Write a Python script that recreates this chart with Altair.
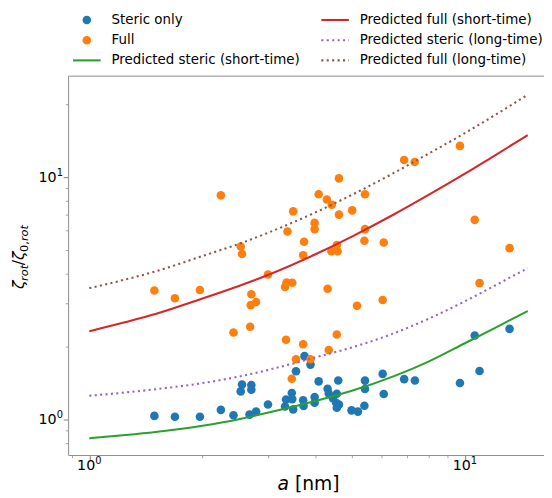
import altair as alt
import pandas as pd

# ---------------- data ----------------
blue_a = [1.49, 1.69, 1.97, 2.24, 2.42, 2.53, 2.55, 2.67, 2.70, 2.70,
          2.78, 2.99, 3.32, 3.34, 3.46, 3.47, 3.49, 3.55, 3.74, 3.88,
          3.71, 3.72, 3.98, 3.98, 4.08, 4.31, 4.34, 4.45, 4.56, 4.60,
          4.54, 4.62, 4.56, 4.99, 5.19, 5.40, 5.42, 5.42, 6.04, 6.08,
          6.89, 7.36, 9.70, 10.94, 10.62, 13.15]
blue_y = [1.032, 1.023, 1.024, 1.093, 1.038, 1.303, 1.391, 1.045, 1.384, 1.325,
          1.075, 1.151, 1.128, 1.206, 1.284, 1.211, 1.098, 1.578, 1.822, 1.681,
          1.197, 1.134, 1.234, 1.169, 1.433, 1.337, 1.278, 1.222, 1.275, 1.446,
          1.169, 1.151, 1.116, 1.088, 1.075, 1.137, 1.444, 1.334, 1.539, 1.272,
          1.464, 1.446, 1.411, 1.581, 2.218, 2.362]

orange_a = [1.49, 1.69, 1.97, 2.24, 2.53, 2.55, 2.99, 2.70, 2.69, 2.78,
            2.42, 2.68, 3.34, 3.71, 3.32, 3.35, 3.47, 3.49, 3.37, 3.73,
            3.71, 3.98, 3.98, 4.08, 4.29, 4.42, 4.62, 4.62, 5.01, 5.42,
            5.42, 5.40, 6.08, 4.56, 4.41, 4.58, 4.31, 5.16, 6.04, 4.56,
            4.34, 3.55, 3.88, 3.46, 6.89, 7.35, 9.70, 10.62, 13.15, 10.94]
orange_y = [3.40, 3.16, 3.42, 8.41, 5.17, 4.81, 3.96, 3.28, 2.96, 3.05,
            2.28, 2.41, 2.13, 2.04, 3.52, 3.67, 3.66, 7.22, 5.96, 5.41,
            4.76, 6.47, 6.10, 8.50, 8.08, 7.69, 9.88, 7.00, 7.29, 8.50,
            6.10, 5.46, 5.37, 5.24, 4.94, 4.94, 3.46, 2.94, 3.11, 2.24,
            1.93, 1.77, 1.77, 1.47, 11.76, 11.54, 13.46, 6.66, 5.09, 3.65]

curve_a = [1.0, 1.25, 1.5, 2.0, 2.5, 3.0, 4.0, 5.0, 6.5, 8.0, 10.0, 12.0, 14.7]
steric_short = [0.835, 0.86, 0.885, 0.94, 1.0, 1.065, 1.19, 1.31, 1.51, 1.73, 2.06, 2.38, 2.80]
steric_long = [1.25, 1.29, 1.33, 1.41, 1.50, 1.60, 1.80, 1.98, 2.27, 2.60, 3.07, 3.56, 4.21]
full_short = [2.31, 2.52, 2.72, 3.15, 3.55, 3.95, 4.80, 5.68, 7.04, 8.44, 10.33, 12.28, 14.9]
full_long = [3.48, 3.78, 4.08, 4.72, 5.30, 5.90, 7.15, 8.45, 10.45, 12.5, 15.2, 18.0, 21.9]

legend_labels = ["Steric only", "Full", "Predicted steric (short-time)",
                 "Predicted full (short-time)", "Predicted steric (long-time)",
                 "Predicted full (long-time)"]

x_ticks = [0.9, 1, 2, 3, 4, 5, 6, 7, 8, 9, 10]
y_ticks = [0.8, 0.9, 1, 2, 3, 4, 5, 6, 7, 8, 9, 10, 20]
major_vals = [1, 10]
major_base = ["10", "10"]
major_exp = ["0", "1"]

# ---------------- styles ----------------
BLUE, ORANGE, GREEN = "#1f77b4", "#ff7f0e", "#2ca02c"
RED, PURPLE, BROWN = "#d62728", "#9467bd", "#8c564b"
FONT = "DejaVu Sans"
FRAME = "#8c8c8c"
DOT = [2.1, 3.4]

x_scale = alt.Scale(type="log", domain=[0.878, 16.24], nice=False)
y_scale = alt.Scale(type="log", domain=[0.7116, 26.25], nice=False)

major = "datum.value == 1 || datum.value == 10"
common = dict(grid=False, domain=False, title=None, tickColor=FRAME, labels=False,
              tickSize={"condition": {"test": major, "value": 5}, "value": 2.8},
              tickWidth={"condition": {"test": major, "value": 1.1}, "value": 0.8})
x_axis = alt.Axis(values=x_ticks, **common)
y_axis = alt.Axis(values=y_ticks, **common)


def X(field="a"):
    return alt.X(f"{field}:Q", scale=x_scale, axis=x_axis)


def Y(field="z"):
    return alt.Y(f"{field}:Q", scale=y_scale, axis=y_axis)


layers = []
for xs, ys, col in [(blue_a, blue_y, BLUE), (orange_a, orange_y, ORANGE)]:
    df = pd.DataFrame({"a": xs, "z": ys})
    layers.append(alt.Chart(df).mark_circle(size=76, color=col, opacity=1)
                  .encode(x=X(), y=Y()))

for ys, col, dash in [(steric_short, GREEN, None), (full_short, RED, None),
                      (steric_long, PURPLE, DOT), (full_long, BROWN, DOT)]:
    df = pd.DataFrame({"a": curve_a, "z": ys})
    kw = dict(color=col, strokeWidth=2.1, interpolate="monotone")
    if dash:
        kw["strokeDash"] = dash
    layers.append(alt.Chart(df).mark_line(**kw).encode(x=X(), y=Y()))

# ---------------- tick labels 10^n, placed through the scales ----------------
tick_df = pd.DataFrame({"a": major_vals, "z": major_vals, "b": major_base, "e": major_exp})
txt = dict(font=FONT, color="#000000", baseline="alphabetic")
layers.append(alt.Chart(tick_df).mark_text(align="right", dx=6.0, fontSize=14.5, **txt)
              .encode(x=X(), y=alt.value(400.5), text="b:N"))
layers.append(alt.Chart(tick_df).mark_text(align="left", dx=6.0, fontSize=10, **txt)
              .encode(x=X(), y=alt.value(394), text="e:N"))
layers.append(alt.Chart(tick_df).mark_text(align="right", dy=5.3, fontSize=14.5, **txt)
              .encode(y=Y(), x=alt.value(-11.6), text="b:N"))
layers.append(alt.Chart(tick_df).mark_text(align="left", dy=-0.8, fontSize=10, **txt)
              .encode(y=Y(), x=alt.value(-11.6), text="e:N"))

# ---------------- legend (pixel positions relative to plot area) ----------------
rows = [-56.5, -36, -15.5]
pix = lambda f: alt.X(f"{f}:Q", scale=None, axis=None)
piy = lambda f: alt.Y(f"{f}:Q", scale=None, axis=None)

leg_pts = pd.DataFrame({"px": [19, 19], "py": rows[:2], "c": [BLUE, ORANGE]})
layers.append(alt.Chart(leg_pts).mark_circle(size=76, opacity=1).encode(
    x=pix("px"), y=piy("py"), color=alt.Color("c:N", scale=None)))

leg_solid = pd.DataFrame({"px": [5, 257], "px2": [33, 285], "py": [rows[2], rows[0]],
                          "c": [GREEN, RED]})
layers.append(alt.Chart(leg_solid).mark_rule(strokeWidth=2.1).encode(
    x=pix("px"), x2="px2:Q", y=piy("py"), color=alt.Color("c:N", scale=None)))

leg_dot = pd.DataFrame({"px": [257, 257], "px2": [285, 285], "py": [rows[1], rows[2]],
                        "c": [PURPLE, BROWN]})
layers.append(alt.Chart(leg_dot).mark_rule(strokeWidth=2.1, strokeDash=DOT).encode(
    x=pix("px"), x2="px2:Q", y=piy("py"), color=alt.Color("c:N", scale=None)))

leg_txt = pd.DataFrame({"px": [44, 44, 44, 296, 296, 296],
                        "py": rows + rows, "t": legend_labels})
layers.append(alt.Chart(leg_txt).mark_text(align="left", baseline="middle", font=FONT,
                                           fontSize=13.6, color="#000000").encode(
    x=pix("px"), y=piy("py"), text="t:N"))

# ---------------- axis titles as text pieces ----------------
xt = pd.DataFrame({"px": [212.5], "py": [421], "t": ["a"]})
layers.append(alt.Chart(xt).mark_text(align="left", baseline="alphabetic", font=FONT,
                                      fontSize=19, fontStyle="italic", color="#000000").encode(
    x=pix("px"), y=piy("py"), text="t:N"))
xt2 = pd.DataFrame({"px": [230.2], "py": [421], "t": ["[nm]"]})
layers.append(alt.Chart(xt2).mark_text(align="left", baseline="alphabetic", font=FONT,
                                       fontSize=19, color="#000000").encode(
    x=pix("px"), y=piy("py"), text="t:N"))

# y title: zeta_rot / zeta_0,rot  (rotated, reading bottom to top)
yt_big_it = pd.DataFrame({"px": [-45, -45], "py": [216.5, 187.1], "t": ["ζ", "ζ"]})
yt_big = pd.DataFrame({"px": [-45], "py": [192.5], "t": ["/"]})
yt_sub_it = pd.DataFrame({"px": [-41, -41], "py": [208.3, 167.9], "t": ["rot", "rot"]})
yt_sub = pd.DataFrame({"px": [-41], "py": [178.9], "t": ["0,"]})
for df, size, style in [(yt_big_it, 16, "italic"), (yt_big, 16, "normal"),
                        (yt_sub_it, 11.5, "italic"), (yt_sub, 11.5, "normal")]:
    layers.append(alt.Chart(df).mark_text(align="left", baseline="alphabetic", angle=270,
                                          font=FONT, fontSize=size, fontStyle=style,
                                          color="#000000").encode(
        x=pix("px"), y=piy("py"), text="t:N"))

chart = alt.layer(*layers).properties(
    width=483, height=385,
    padding={"left": 61, "top": 65, "right": 0, "bottom": 41},
    autosize=alt.AutoSizeParams(type="none"),
    background="white",
).configure_view(stroke=FRAME, strokeWidth=1)

chart.save("out.html", embed_options={"renderer": "svg", "actions": False})
